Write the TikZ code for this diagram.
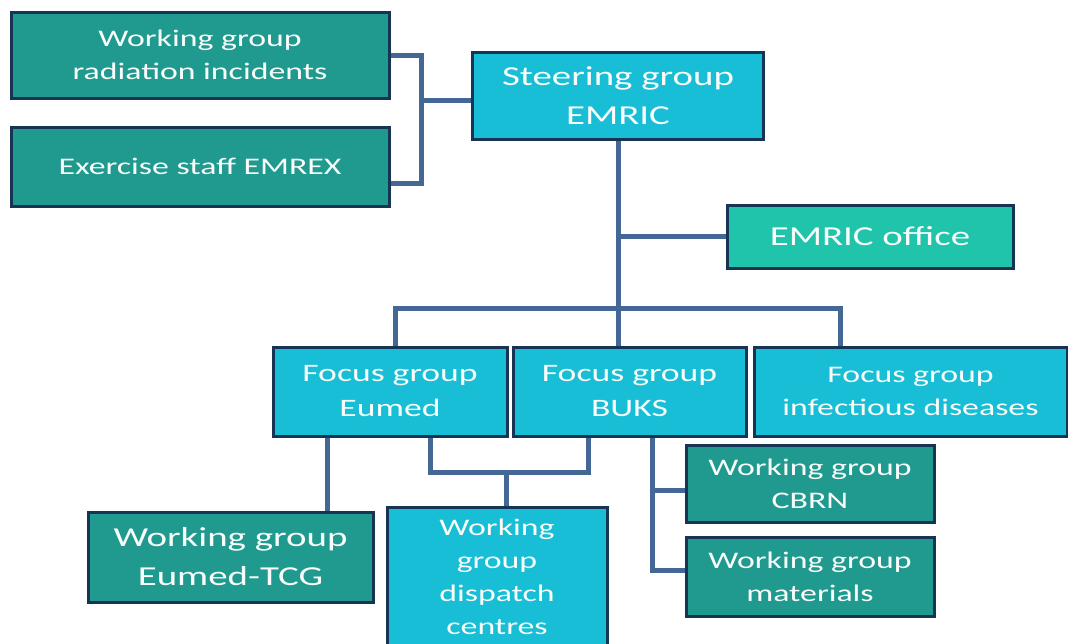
\documentclass[tikz,border=0pt]{standalone}
\usepackage{fontspec}
\setmainfont{Carlito}[FakeStretch=1.42]
\usetikzlibrary{calc}
\definecolor{tealc}{RGB}{32,154,142}
\definecolor{cyanc}{RGB}{23,190,214}
\definecolor{officec}{RGB}{32,196,170}
\definecolor{bordc}{RGB}{24,52,84}
\definecolor{connc}{RGB}{68,104,150}
\definecolor{textc}{RGB}{248,252,250}
\newcommand\fsS{\fontsize{23.8}{33}\selectfont}
\newcommand\fsM{\fontsize{25.1}{35}\selectfont}
\newcommand\fsL{\fontsize{27.4}{39}\selectfont}
\tikzset{
  box/.style={draw=bordc, line width=3pt, text=textc, align=center, inner sep=0pt},
  wgbox/.style={box, fill=tealc},
  fgbox/.style={box, fill=cyanc},
  offbox/.style={box, fill=officec},
  conn/.style={draw=connc, line width=5pt},
}
\begin{document}
\begin{tikzpicture}[x=1pt,y=-1pt]
\useasboundingbox (0,0) rectangle (1068,643);
\fill[white] (0,0) rectangle (1068,643);
\clip (0,0) rectangle (1068,643);
% routing coordinates
\coordinate (brx) at (421,0);
\coordinate (busL) at (395,308);
\coordinate (busR) at (840,308);
\coordinate (tcgx) at (327,0);
\coordinate (dbL) at (430,472);
\coordinate (dbR) at (588,472);
\coordinate (dbM) at (506,472);
\coordinate (bx) at (652,0);
\coordinate (cbrny) at (0,490);
\coordinate (maty) at (0,570);
% boxes
\node[wgbox, minimum width=378, minimum height=86, font=\fsS] (rad) at (200,55) {Working group\\radiation incidents};
\node[wgbox, minimum width=378, minimum height=79, font=\fsS] (ex) at (200,166.5) {Exercise staff EMREX};
\node[fgbox, minimum width=291, minimum height=87, font=\fsL] (steer) at (618,95.5) {Steering group\\EMRIC};
\node[offbox, minimum width=286, minimum height=63, font=\fsL] (office) at (870,236.5) {EMRIC office};
\node[fgbox, minimum width=234, minimum height=89, font=\fsM] (eumed) at (390,391.5) {Focus group\\Eumed};
\node[fgbox, minimum width=233, minimum height=89, font=\fsM] (buks) at (629.5,391.5) {Focus group\\BUKS};
\node[fgbox, minimum width=313, minimum height=89, font=\fsS] (inf) at (910.5,391.5) {Focus group\\infectious diseases};
\node[wgbox, minimum width=285, minimum height=90, font=\fsL] (tcg) at (230.5,557) {Working group\\Eumed-TCG};
\node[fgbox, minimum width=220, minimum height=140, font=\fsS] (disp) at (497,577) {Working\\group\\dispatch\\centres};
\node[wgbox, minimum width=248, minimum height=77, font=\fsS] (cbrn) at (810,483.5) {Working group\\CBRN};
\node[wgbox, minimum width=248, minimum height=79, font=\fsS] (mat) at (810,576.5) {Working group\\materials};
% connectors
\draw[conn] (rad.east) -- (rad.east -| brx) -- ($(ex.east -| brx)+(0,16.5)$) -- ($(ex.east)+(0,16.5)$);
\draw[conn] ($(steer.west -| brx)+(0,4.5)$) -- ($(steer.west)+(0,4.5)$);
\draw[conn] (steer.south) -- (steer.south |- buks.north);
\draw[conn] (steer.south |- office.west) -- (office.west);
\draw[conn] (busL |- eumed.north) -- (busL) -- (busR) -- (busR |- inf.north);
\draw[conn] (tcgx |- eumed.south) -- (tcgx |- tcg.north);
\draw[conn] (dbL |- eumed.south) -- (dbL) -- (dbR) -- (dbR |- buks.south);
\draw[conn] (dbM) -- (dbM |- disp.north);
\draw[conn] (bx |- buks.south) -- (bx |- maty) -- (maty -| mat.west);
\draw[conn] (bx |- cbrny) -- (cbrny -| cbrn.west);
\end{tikzpicture}
\end{document}
